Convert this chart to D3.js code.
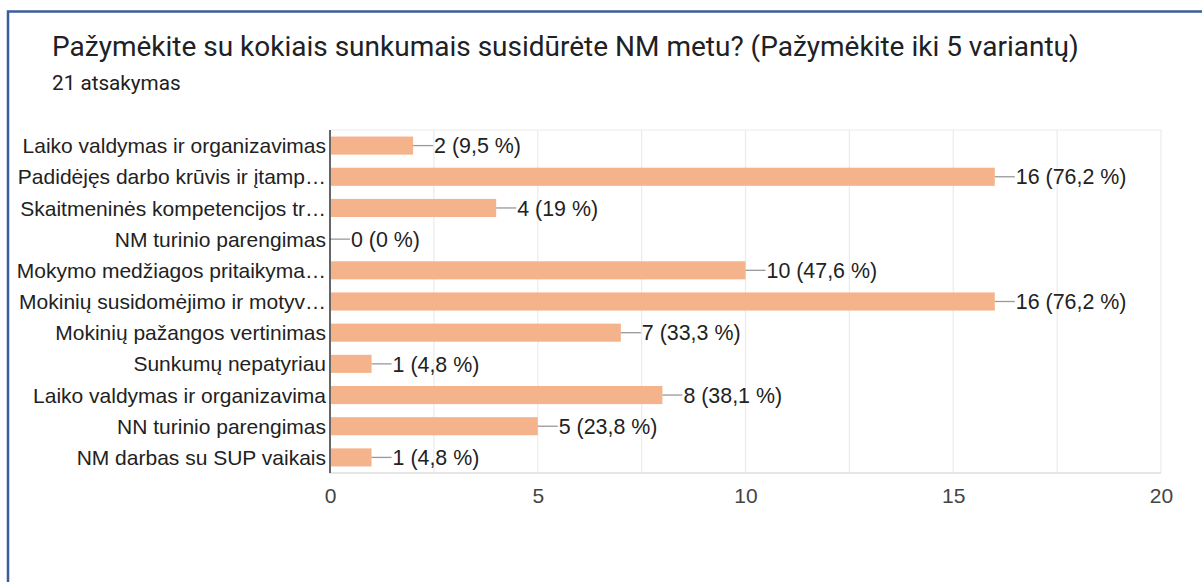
<!DOCTYPE html>
<html>
<head>
<meta charset="utf-8">
<script src="https://cdn.jsdelivr.net/npm/d3@7"></script>
<style>
  body { margin: 0; background: #fff; }
  svg { display: block; }
  .title { font-family: Roboto, sans-serif; font-size: 28px; fill: #202124; }
  .subtitle { font-family: Roboto, sans-serif; font-size: 20.7px; fill: #202124; }
  .cat, .val, .tick text { font-family: "Liberation Sans", Arial, sans-serif; font-size: 21px; }
  .cat { fill: #222; }
  .val { fill: #222; font-size: 21.4px; }
  .tick text { fill: #444; }
</style>
</head>
<body>
<div class="main"></div>
<script>
const categories = [
  "Laiko valdymas ir organizavimas",
  "Padidėjęs darbo krūvis ir įtamp…",
  "Skaitmeninės kompetencijos tr…",
  "NM turinio parengimas",
  "Mokymo medžiagos pritaikyma…",
  "Mokinių susidomėjimo ir motyv…",
  "Mokinių pažangos vertinimas",
  "Sunkumų nepatyriau",
  "Laiko valdymas ir organizavima",
  "NN turinio parengimas",
  "NM darbas su SUP vaikais"
];
const counts = [2, 16, 4, 0, 10, 16, 7, 1, 8, 5, 1];
const percents = ["9,5", "76,2", "19", "0", "47,6", "76,2", "33,3", "4,8", "38,1", "23,8", "4,8"];
const xTicks = [0, 5, 10, 15, 20];
const gridValues = [2.5, 5, 7.5, 10, 12.5, 15, 17.5, 20];

const svgWidth = 1202,
    svgHeight = 582,
    plot = {left: 330, right: 1161, top: 130, bottom: 473};

let svg = d3.select("body>.main").append("svg")
    .attr("width", svgWidth)
    .attr("height", svgHeight);

// frame
svg.append("path")
    .attr("d", "M8,582 V11.5 H1202")
    .attr("fill", "none")
    .attr("stroke", "#3b5c9e")
    .attr("stroke-width", 2.5);

svg.append("text").attr("class", "title")
    .attr("x", 52).attr("y", 56)
    .text("Pažymėkite su kokiais sunkumais susidūrėte NM metu? (Pažymėkite iki 5 variantų)");
svg.append("text").attr("class", "subtitle")
    .attr("x", 52).attr("y", 90)
    .text("21 atsakymas");

let x = d3.scaleLinear().domain([0, 20]).range([plot.left, plot.right]),
    y = d3.scaleBand().domain(d3.range(categories.length))
      .range([plot.top, plot.bottom]).paddingInner(0.42).paddingOuter(0.21);

// grid
svg.append("g").attr("class", "grid")
  .selectAll("line")
  .data(gridValues)
  .enter().append("line")
    .attr("x1", d => x(d)).attr("x2", d => x(d))
    .attr("y1", plot.top).attr("y2", plot.bottom)
    .attr("stroke", "#ebebeb").attr("stroke-width", 1.2);
svg.append("line")
    .attr("x1", plot.left).attr("x2", plot.right)
    .attr("y1", plot.top).attr("y2", plot.top)
    .attr("stroke", "#ebebeb").attr("stroke-width", 1.2);
svg.append("line")
    .attr("x1", plot.left).attr("x2", plot.right)
    .attr("y1", plot.bottom).attr("y2", plot.bottom)
    .attr("stroke", "#e6e6e6").attr("stroke-width", 2);

// x axis labels
let xAxis = d3.axisBottom(x).tickValues(xTicks).tickSize(0).tickPadding(15);
svg.append("g")
    .attr("class", "x axis")
    .attr("transform", "translate(0," + plot.bottom + ")")
    .call(xAxis)
    .call(g => g.select(".domain").remove());

// bars
let rows = svg.append("g").attr("class", "bars")
  .selectAll("g")
  .data(counts)
  .enter().append("g");

rows.append("rect")
    .attr("x", x(0) + 1)
    .attr("y", (d, i) => y(i))
    .attr("width", d => Math.max(0, x(d) - x(0) - 1))
    .attr("height", y.bandwidth())
    .attr("fill", "#f4b38a");

rows.append("line")
    .attr("x1", d => x(d))
    .attr("x2", d => x(d) + 20)
    .attr("y1", (d, i) => y(i) + y.bandwidth() / 2)
    .attr("y2", (d, i) => y(i) + y.bandwidth() / 2)
    .attr("stroke", "#999").attr("stroke-width", 1.3);

rows.append("text")
    .attr("class", "val")
    .attr("x", d => x(d) + 21)
    .attr("y", (d, i) => y(i) + y.bandwidth() / 2)
    .attr("dy", ".36em")
    .text((d, i) => d + " (" + percents[i] + " %)");

rows.append("text")
    .attr("class", "cat")
    .attr("x", plot.left - 4)
    .attr("y", (d, i) => y(i) + y.bandwidth() / 2)
    .attr("dy", ".36em")
    .attr("text-anchor", "end")
    .text((d, i) => categories[i]);

// y axis line
svg.append("line")
    .attr("x1", plot.left).attr("x2", plot.left)
    .attr("y1", plot.top).attr("y2", plot.bottom)
    .attr("stroke", "#333").attr("stroke-width", 1.5);
</script>
</body>
</html>
